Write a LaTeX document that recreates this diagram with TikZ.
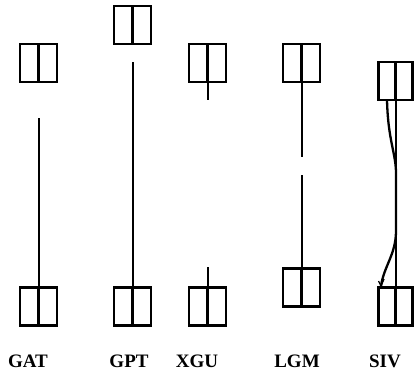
\documentclass[tikz,border=0pt]{standalone}
\usepackage{fontspec}
\setmainfont{Liberation Serif}
\begin{document}
\begin{tikzpicture}[x=1pt,y=-1pt,
  cellbox/.style={draw,line width=2.5pt,minimum width=37pt,minimum height=38pt,inner sep=0pt,
    path picture={\draw[line width=2.4pt] (path picture bounding box.north) -- (path picture bounding box.south);}},
  narrowbox/.style={cellbox,minimum width=34pt},
  rod/.style={line width=2pt},
  lbl/.style={anchor=base,font=\bfseries\fontsize{19}{19}\selectfont,inner sep=0pt}]
\useasboundingbox (0,0) rectangle (414,373);
% GAT
\node[cellbox] (gatT) at (38.5,63) {};
\node[cellbox] (gatB) at (38.5,306.5) {};
\coordinate (gatS) at (38.5,118);
\draw[rod] (gatS) -- (gatB.south);
\node[lbl] (gatL) at (28,367) {GAT};
% GPT
\node[cellbox] (gptT) at (132.5,25) {};
\node[cellbox] (gptB) at (132.5,306.5) {};
\coordinate (gptS) at (132.5,62);
\draw[rod] (gptS) -- (gptB.south);
\node[lbl] (gptL) at (129,367) {GPT};
% XGU
\node[cellbox] (xguT) at (207.5,63) {};
\node[cellbox] (xguB) at (207.5,306.5) {};
\coordinate (xguE) at (207.5,100);
\coordinate (xguS) at (207.5,267);
\draw[rod] (xguT.south) -- (xguE);
\draw[rod] (xguS) -- (xguB.north);
\node[lbl] (xguL) at (197,367) {XGU};
% LGM
\node[cellbox] (lgmT) at (301.5,63) {};
\node[cellbox] (lgmB) at (301.5,287.5) {};
\coordinate (lgmG1) at (301.5,157);
\coordinate (lgmG2) at (301.5,175);
\draw[rod] (lgmT.south) -- (lgmG1);
\draw[rod] (lgmG2) -- (lgmB.north);
\node[lbl] (lgmL) at (297,367) {LGM};
% SIV
\node[narrowbox] (sivT) at (395.5,81) {};
\node[narrowbox] (sivB) at (395.5,306.5) {};
\draw[rod] (sivT.south) -- (sivB.north);
\coordinate (sivC1) at (387,100);
\coordinate (sivM1) at (396,172);
\coordinate (sivM2) at (396,232);
\coordinate (sivC2) at (381,286);
\draw[rod,line width=2.3pt] (sivC1) .. controls (388,140) and (395.5,152) .. (sivM1) -- (sivM2)
  .. controls (395.5,255) and (384,266) .. (sivC2);
\draw[line width=1.3pt] (378.5,281) -- (sivC2) -- (384,279);
\node[lbl] (sivL) at (385,367) {SIV};
\end{tikzpicture}
\end{document}
